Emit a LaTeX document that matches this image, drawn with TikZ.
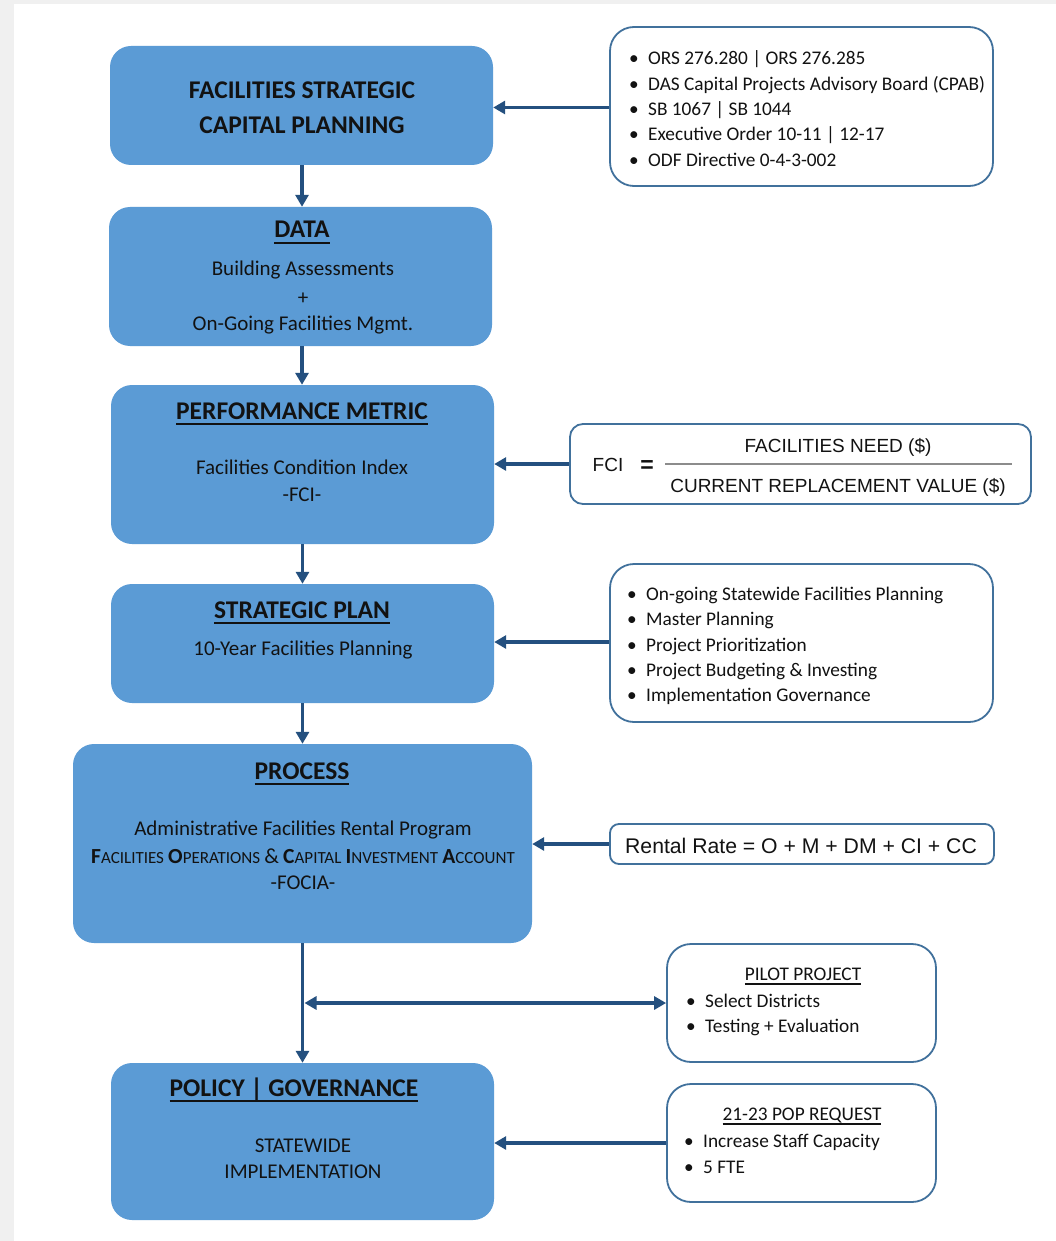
\documentclass[tikz,border=0pt]{standalone}
\usepackage{fontspec}
\setmainfont{Carlito}
\newfontfamily\arialf{Liberation Sans}
\usetikzlibrary{arrows.meta}

\definecolor{pagegray}{HTML}{F0F0F0}
\definecolor{boxblue}{HTML}{5B9BD5}
\definecolor{flowc}{HTML}{24507F}
\definecolor{edgec}{HTML}{41719C}
\definecolor{inkc}{HTML}{121212}
\definecolor{rulegray}{HTML}{8C8C8C}

% font size in points
\newcommand\fsz[1]{\fontsize{#1pt}{#1pt}\selectfont}
% underline drawn as a rule below the baseline
\newlength\ulw
\newcommand\undl[3]{\settowidth\ulw{#1}\rlap{\rule[-#2]{\ulw}{#3}}#1}
% fake small caps: bold capital, smaller caps after it
\newcommand\scap[2]{{\fsz{21.5}\bfseries #1}{\fsz{17}#2}}
% bullet hung to the left of the item text
\newcommand\itm[1]{\llap{\makebox[19pt][l]{\textbullet}}#1}

\tikzset{
  mainbox/.style={draw=none, fill=boxblue, rounded corners=21pt, inner sep=0pt},
  sidebox/.style={draw=edgec, line width=1.8pt, fill=white, rounded corners=24pt, inner sep=0pt},
  ttl/.style={anchor=base, inner sep=0pt, text=inkc, font=\fsz{25.5}\bfseries},
  body/.style={anchor=base, inner sep=0pt, text=inkc, font=\fsz{21}},
  lst/.style={anchor=base west, inner sep=0pt, text=inkc, font=\fsz{19.3}},
  lsthead/.style={anchor=base, inner sep=0pt, text=inkc, font=\fsz{19.3}},
  formula/.style={anchor=base, inner sep=0pt, text=inkc, font=\arialf\fsz{19}},
  flow/.style={draw=flowc, line width=3.6pt, -{Triangle[length=12pt,width=13pt]}},
  flowboth/.style={draw=flowc, line width=3.6pt, {Triangle[length=12pt,width=13pt]}-{Triangle[length=12pt,width=13pt]}},
}

\begin{document}
\begin{tikzpicture}[x=1pt,y=-1pt]
% page
\fill[pagegray] (0,0) rectangle (1056,1241);
\fill[white] (14,4) rectangle (1056,1241);
\useasboundingbox (0,0) rectangle (1056,1241);

% ---------- main column ----------
\node[mainbox, minimum width=383pt, minimum height=119pt] (fscp) at (301.5,105.5) {};
\node[ttl] (fscp-a) at (302,99) {FACILITIES STRATEGIC};
\node[ttl] (fscp-b) at (302,134) {CAPITAL PLANNING};

\node[mainbox, minimum width=383pt, minimum height=139pt] (data) at (300.5,276.5) {};
\node[ttl] (data-t) at (302,238) {\undl{DATA}{6pt}{1.8pt}};
\node[body] (data-a) at (303,276) {Building Assessments};
\node[body] (data-b) at (303,304) {+};
\node[body] (data-c) at (303,330) {On-Going Facilities Mgmt.};

\node[mainbox, minimum width=383pt, minimum height=159pt] (metric) at (302.5,464.5) {};
\node[ttl] (metric-t) at (302,419) {\undl{PERFORMANCE METRIC}{6pt}{1.8pt}};
\node[body] (metric-a) at (302,474) {Facilities Condition Index};
\node[body] (metric-b) at (302,501) {-FCI-};

\node[mainbox, minimum width=383pt, minimum height=119pt] (splan) at (302.5,643.5) {};
\node[ttl] (splan-t) at (302,618) {\undl{STRATEGIC PLAN}{6pt}{1.8pt}};
\node[body] (splan-a) at (303,655) {10-Year Facilities Planning};

\node[mainbox, minimum width=459pt, minimum height=199pt] (process) at (302.5,843.5) {};
\node[ttl] (process-t) at (302,779) {\undl{PROCESS}{6pt}{1.8pt}};
\node[body] (process-a) at (303,835) {Administrative Facilities Rental Program};
\node[body, font=\fsz{18.5}] (process-b) at (303,863)
  {\scap{F}{ACILITIES} \scap{O}{PERATIONS} {\fsz{21.5}\&} \scap{C}{APITAL} \scap{I}{NVESTMENT} \scap{A}{CCOUNT}};
\node[body] (process-c) at (303,889) {-FOCIA-};

\node[mainbox, minimum width=383pt, minimum height=157pt] (policy) at (302.5,1141.5) {};
\node[ttl] (policy-t) at (294,1096) {\undl{POLICY | GOVERNANCE}{6pt}{1.8pt}};
\node[body] (policy-a) at (303,1152) {STATEWIDE};
\node[body] (policy-b) at (303,1178) {IMPLEMENTATION};

% ---------- side boxes ----------
\node[sidebox, minimum width=383pt, minimum height=159pt] (laws) at (801.5,106.5) {};
\node[lst] (laws-1) at (648,65) {\itm{ORS 276.280 | ORS 276.285}};
\node[lst] (laws-2) at (648,91) {\itm{DAS Capital Projects Advisory Board (CPAB)}};
\node[lst] (laws-3) at (648,116) {\itm{SB 1067 | SB 1044}};
\node[lst] (laws-4) at (648,141) {\itm{Executive Order 10-11 | 12-17}};
\node[lst] (laws-5) at (648,167) {\itm{ODF Directive 0-4-3-002}};

\node[sidebox, rounded corners=13pt, minimum width=461pt, minimum height=80pt] (fci) at (800.5,464) {};
\node[formula] (fci-l) at (608,471) {FCI};
\node[formula, font=\arialf\bfseries\fsz{23}] (fci-eq) at (647,472) {=};
\node[formula] (fci-num) at (838,452) {FACILITIES NEED (\$)};
\node[formula] (fci-den) at (838,492) {CURRENT REPLACEMENT VALUE (\$)};
\draw[rulegray, line width=1.6pt] (665,464) -- (1012,464);

\node[sidebox, minimum width=383pt, minimum height=158pt] (planlist) at (801.5,643) {};
\node[lst] (plan-1) at (646,600) {\itm{On-going Statewide Facilities Planning}};
\node[lst] (plan-2) at (646,625) {\itm{Master Planning}};
\node[lst] (plan-3) at (646,651) {\itm{Project Prioritization}};
\node[lst] (plan-4) at (646,676) {\itm{Project Budgeting \& Investing}};
\node[lst] (plan-5) at (646,701) {\itm{Implementation Governance}};

\node[sidebox, rounded corners=9pt, minimum width=384pt, minimum height=40pt] (rental) at (802,844) {};
\node[formula, font=\arialf\fsz{21.2}] (rental-t) at (801,853.5) {Rental Rate = O + M + DM + CI + CC};

\node[sidebox, minimum width=269pt, minimum height=118pt] (pilot) at (801.5,1003) {};
\node[lsthead] (pilot-t) at (803,980) {\undl{PILOT PROJECT}{4.5pt}{1.2pt}};
\node[lst] (pilot-1) at (705,1007) {\itm{Select Districts}};
\node[lst] (pilot-2) at (705,1032) {\itm{Testing + Evaluation}};

\node[sidebox, minimum width=269pt, minimum height=118pt] (pop) at (801.5,1143) {};
\node[lsthead] (pop-t) at (802,1120) {\undl{21-23 POP REQUEST}{4.5pt}{1.2pt}};
\node[lst] (pop-1) at (703,1147) {\itm{Increase Staff Capacity}};
\node[lst] (pop-2) at (703,1173) {\itm{5 FTE}};

% ---------- connectors ----------
\draw[flow] ([xshift=0.5pt]fscp.south) -- ([xshift=0.5pt]fscp.south |- data.north);
\draw[flow] ([xshift=1.5pt]data.south) -- ([xshift=1.5pt]data.south |- metric.north);
\draw[flow] (metric.south) -- (metric.south |- splan.north);
\draw[flow] (splan.south) -- (splan.south |- process.north);
\draw[flow] (process.south) -- (process.south |- policy.north);
\coordinate (split) at ([xshift=2pt]process.south |- pilot.west);
\draw[flowboth] (split) -- (pilot.west);

\draw[flow] ([yshift=-1pt]laws.west) -- ([yshift=-1pt]laws.west -| fscp.east);
\draw[flow] (fci.west) -- (fci.west -| metric.east);
\draw[flow] ([yshift=1pt]planlist.west) -- ([yshift=1pt]planlist.west -| splan.east);
\draw[flow] (rental.west) -- (rental.west -| process.east);
\draw[flow] (pop.west) -- (pop.west -| policy.east);
\end{tikzpicture}
\end{document}
